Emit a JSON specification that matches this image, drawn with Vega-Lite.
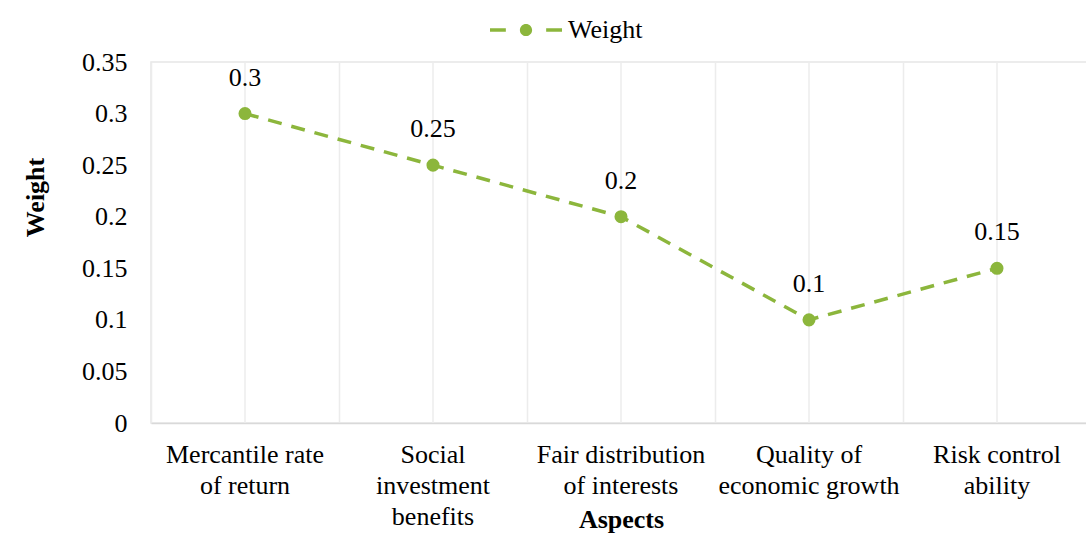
{
  "$schema": "https://vega.github.io/schema/vega-lite/v6.json",
  "width": 940,
  "height": 361,
  "autosize": {"type": "none"},
  "padding": {"left": 151, "top": 62, "right": 0, "bottom": 113},
  "background": "white",
  "config": {
    "font": "Liberation Serif",
    "view": {"stroke": "#e6e6e6", "strokeWidth": 1.5}
  },
  "data": {
    "values": [
      {"aspect": "Mercantile rate\nof return", "weight": 0.3, "series": "Weight"},
      {"aspect": "Social\ninvestment\nbenefits", "weight": 0.25, "series": "Weight"},
      {"aspect": "Fair distribution\nof interests", "weight": 0.2, "series": "Weight"},
      {"aspect": "Quality of\neconomic growth", "weight": 0.1, "series": "Weight"},
      {"aspect": "Risk control\nability", "weight": 0.15, "series": "Weight"}
    ]
  },
  "encoding": {
    "x": {
      "field": "aspect",
      "type": "nominal",
      "sort": null,
      "scale": {"type": "band", "paddingInner": 0, "paddingOuter": 0},
      "axis": {
        "title": "Aspects",
        "titleFontSize": 26,
        "titleFontWeight": "bold",
        "titleColor": "black",
        "titleY": 104,
        "titleBaseline": "alphabetic",
        "labelAngle": 0,
        "labelFontSize": 26,
        "labelColor": "black",
        "labelLineHeight": 31,
        "labelExpr": "split(datum.label, '\\n')",
        "labelLimit": 400,
        "labelOverlap": false,
        "labelPadding": 18,
        "ticks": false,
        "domainColor": "#d9d9d9",
        "domainWidth": 1.5,
        "grid": true,
        "gridColor": "#ececec",
        "gridWidth": 1.5,
        "bandPosition": 0
      }
    }
  },
  "layer": [
    {
      "mark": {"type": "rule", "color": "#ececec", "strokeWidth": 1.5},
      "encoding": {}
    },
    {
      "mark": {"type": "line", "strokeDash": [14, 10], "strokeWidth": 3.5},
      "encoding": {
        "y": {
          "field": "weight",
          "type": "quantitative",
          "scale": {"domain": [0, 0.35], "nice": false},
          "axis": {
            "title": "Weight",
            "titleFontSize": 26,
            "titleFontWeight": "bold",
            "titleColor": "black",
            "titleX": -103,
            "titleY": 135,
            "grid": false,
            "domain": false,
            "ticks": false,
            "labelFontSize": 26,
            "labelColor": "black",
            "labelPadding": 24,
            "values": [0, 0.05, 0.1, 0.15, 0.2, 0.25, 0.3, 0.35],
            "format": ".2~f"
          }
        },
        "color": {
          "field": "series",
          "type": "nominal",
          "scale": {"range": ["#8cb63c"]}
        }
      }
    },
    {
      "mark": {"type": "point", "filled": true, "size": 170, "opacity": 1},
      "encoding": {
        "y": {"field": "weight", "type": "quantitative"},
        "color": {
          "field": "series",
          "type": "nominal",
          "legend": {
            "title": null,
            "orient": "none",
            "legendX": 339,
            "legendY": -68,
            "padding": 0,
            "symbolType": "M-1,-0.05H-0.56V0.05H-1Z M-0.17,0A0.17,0.17,0,1,0,0.17,0A0.17,0.17,0,1,0,-0.17,0Z M0.56,-0.05H1V0.05H0.56Z",
            "symbolSize": 5184,
            "symbolStrokeWidth": 0,
            "symbolFillColor": "#8cb63c",
            "symbolOpacity": 1,
            "labelFontSize": 26,
            "labelColor": "black",
            "labelOffset": 6
          }
        }
      }
    },
    {
      "mark": {"type": "text", "dy": -36, "fontSize": 26, "color": "black"},
      "encoding": {
        "y": {"field": "weight", "type": "quantitative"},
        "text": {"field": "weight", "type": "quantitative"}
      }
    }
  ]
}
